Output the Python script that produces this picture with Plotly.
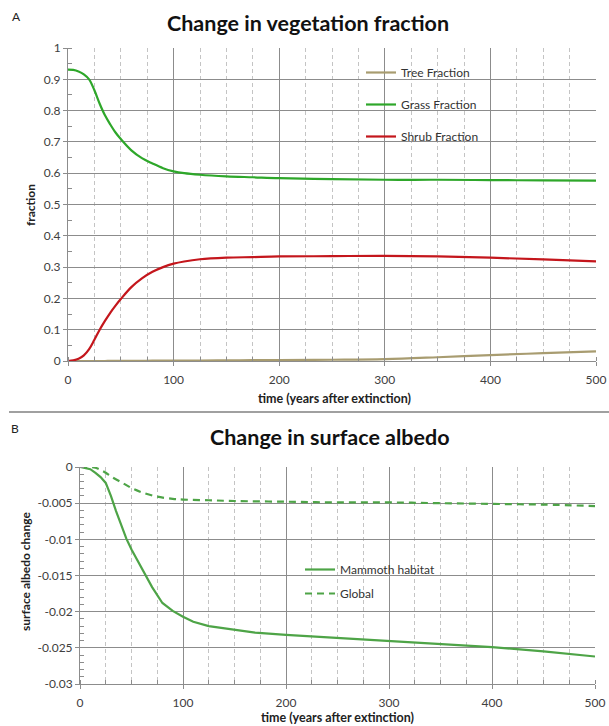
import plotly.graph_objects as go

# ---------------- data ----------------
t_veg = [0, 5, 10, 15, 20, 25, 30, 35, 40, 45, 50, 60, 70, 80, 90, 100, 110, 125,
         150, 175, 200, 250, 300, 350, 400, 450, 500]
grass = [0.931, 0.930, 0.925, 0.916, 0.900, 0.865, 0.822, 0.785, 0.756, 0.730, 0.709,
         0.673, 0.648, 0.631, 0.616, 0.606, 0.600, 0.595, 0.590, 0.587, 0.584, 0.581,
         0.579, 0.579, 0.578, 0.577, 0.576]
shrub = [0.0, 0.002, 0.007, 0.018, 0.038, 0.068, 0.100, 0.128, 0.154, 0.177, 0.198,
         0.236, 0.264, 0.285, 0.300, 0.311, 0.318, 0.325, 0.330, 0.332, 0.334, 0.335,
         0.336, 0.334, 0.330, 0.325, 0.318]
tree = [0.0, 0.0, 0.0, 0.0, 0.0, 0.0, 0.0, 0.0, 0.0005, 0.0005, 0.0005, 0.0007, 0.0008,
        0.001, 0.001, 0.001, 0.0012, 0.0015, 0.002, 0.0025, 0.003, 0.004, 0.006, 0.012,
        0.019, 0.025, 0.031]

t_mam = [0, 5, 10, 15, 20, 25, 30, 35, 40, 45, 50, 60, 70, 80, 90, 100, 110, 125,
         150, 170, 200, 250, 300, 350, 400, 450, 500]
mammoth = [0.0, -0.0001, -0.0003, -0.0008, -0.0014, -0.0022, -0.0040, -0.0061, -0.0080,
           -0.0099, -0.0114, -0.0141, -0.0166, -0.0188, -0.0199, -0.0207, -0.0214,
           -0.0220, -0.0225, -0.0229, -0.0232, -0.0236, -0.0241, -0.0244, -0.0249,
           -0.0255, -0.0262]
t_glob = [0, 10, 15, 20, 25, 30, 40, 50, 60, 75, 90, 100, 125, 150, 200, 250, 300,
          350, 400, 450, 500]
global_alb = [0.0, 0.0, -0.0001, -0.0004, -0.0008, -0.0013, -0.0021, -0.0029, -0.0035,
              -0.0041, -0.0044, -0.0045, -0.0046, -0.0047, -0.0048, -0.0049, -0.0049,
              -0.0050, -0.0051, -0.0052, -0.0054]

x_ticks = [0, 100, 200, 300, 400, 500]
y1_ticks = [0, 0.1, 0.2, 0.3, 0.4, 0.5, 0.6, 0.7, 0.8, 0.9, 1]
y1_labels = ["0", "0.1", "0.2", "0.3", "0.4", "0.5", "0.6", "0.7", "0.8", "0.9", "1"]
y2_ticks = [0, -0.005, -0.01, -0.015, -0.02, -0.025, -0.03]
y2_labels = ["0", "-0.005", "-0.01", "-0.015", "-0.02", "-0.025", "-0.03"]

# ---------------- figure ----------------
W, H = 609, 726
FONT = "Lato, 'Open Sans', sans-serif"
TICKC = "#404040"
GRID = "#8c8c8c"
MINOR = "#c4c4c4"


def px(x):
    return x / W


def py(y):
    return 1 - y / H


fig = go.Figure()

fig.add_trace(go.Scatter(x=t_veg, y=tree, name="Tree Fraction", mode="lines",
                         line=dict(color="#a89c70", width=2.2, shape="spline"),
                         xaxis="x", yaxis="y", legend="legend", legendgroup="a"))
fig.add_trace(go.Scatter(x=t_veg, y=grass, name="Grass Fraction", mode="lines",
                         line=dict(color="#2ea72a", width=2.2, shape="spline"),
                         xaxis="x", yaxis="y", legend="legend", legendgroup="b"))
fig.add_trace(go.Scatter(x=t_veg, y=shrub, name="Shrub Fraction", mode="lines",
                         line=dict(color="#c4161c", width=2.2, shape="spline"),
                         xaxis="x", yaxis="y", legend="legend", legendgroup="c"))

fig.add_trace(go.Scatter(x=t_mam, y=mammoth, name="Mammoth habitat", mode="lines",
                         line=dict(color="#4ea447", width=2.2),
                         xaxis="x2", yaxis="y2", legend="legend2", legendgroup="d"))
fig.add_trace(go.Scatter(x=t_glob, y=global_alb, name="Global", mode="lines",
                         line=dict(color="#4ea447", width=2.2, dash="7px,5px", shape="spline"),
                         xaxis="x2", yaxis="y2", legend="legend2", legendgroup="e"))


def xax(domain, anchor):
    return dict(domain=domain, anchor=anchor, range=[0, 500], tickvals=x_ticks,
                showgrid=True, gridcolor=GRID, gridwidth=1,
                showline=True, linecolor=GRID, linewidth=1,
                ticks="outside", ticklen=4, tickcolor=GRID, ticklabelstandoff=4,
                tickfont=dict(family=FONT, size=12, color=TICKC),
                minor=dict(dtick=25, showgrid=True, gridcolor=MINOR, griddash="4px,3px",
                           gridwidth=1, ticks="inside", ticklen=4, tickcolor=GRID),
                zeroline=False, fixedrange=True, automargin=False)


def yax(domain, anchor, rng, tv, tt, mdt):
    return dict(domain=domain, anchor=anchor, range=rng, tickvals=tv, ticktext=tt,
                showgrid=True, gridcolor=GRID, gridwidth=1,
                showline=True, linecolor=GRID, linewidth=1,
                ticks="outside", ticklen=4, tickcolor=GRID,
                tickfont=dict(family=FONT, size=12, color=TICKC),
                minor=dict(dtick=mdt, ticks="inside", ticklen=4, tickcolor=GRID, showgrid=False),
                zeroline=False, fixedrange=True, automargin=False)


fig.update_layout(
    width=W, height=H,
    margin=dict(l=0, r=0, t=0, b=0),
    paper_bgcolor="white", plot_bgcolor="white",
    font=dict(family=FONT, size=12, color="#222"),
    xaxis=xax([px(68), px(596)], "y"),
    yaxis=yax([py(361), py(48)], "x", [0, 1], y1_ticks, y1_labels, 0.05),
    xaxis2=xax([px(80), px(595)], "y2"),
    yaxis2=yax([py(684), py(467)], "x2", [-0.03, 0], y2_ticks, y2_labels, 0.001),
    legend=dict(x=px(361), y=py(58), xanchor="left", yanchor="top",
                bgcolor="rgba(0,0,0,0)", tracegroupgap=13,
                font=dict(family=FONT, size=12, color="#333")),
    legend2=dict(x=px(300), y=py(555), xanchor="left", yanchor="top",
                 bgcolor="rgba(0,0,0,0)", tracegroupgap=5,
                 font=dict(family=FONT, size=12, color="#333")),
    showlegend=True,
)

ann = [
    dict(text="A", x=px(16), y=py(16), font=dict(size=12, color="#222")),
    dict(text="B", x=px(15), y=py(428), font=dict(size=12, color="#222")),
    dict(text="<b>Change in vegetation fraction</b>", x=px(308), y=py(23),
         font=dict(size=21.5, color="#111")),
    dict(text="<b>Change in surface albedo</b>", x=px(330), y=py(437),
         font=dict(size=21.5, color="#111")),
    dict(text="<b>time (years after extinction)</b>", x=px(334), y=py(398),
         font=dict(size=12.5, color="#222")),
    dict(text="<b>time (years after extinction)</b>", x=px(337), y=py(717),
         font=dict(size=12.5, color="#222")),
    dict(text="<b>fraction</b>", x=px(30), y=py(205), textangle=-90,
         font=dict(size=12, color="#222")),
    dict(text="<b>surface albedo change</b>", x=px(25), y=py(572), textangle=-90,
         font=dict(size=12, color="#222")),
]
for a in ann:
    a.update(xref="paper", yref="paper", showarrow=False, xanchor="center", yanchor="middle")
    a["font"] = dict(family=FONT, **a["font"])
fig.update_layout(annotations=ann)

fig.add_shape(type="line", xref="paper", yref="paper", x0=px(9), x1=1,
              y0=py(412), y1=py(412), line=dict(color="#a0a0a0", width=2))

fig.write_html(
    "out.html",
    config={"displayModeBar": False},
    post_script="document.body.style.margin='0';document.body.style.overflow='hidden';",
)
